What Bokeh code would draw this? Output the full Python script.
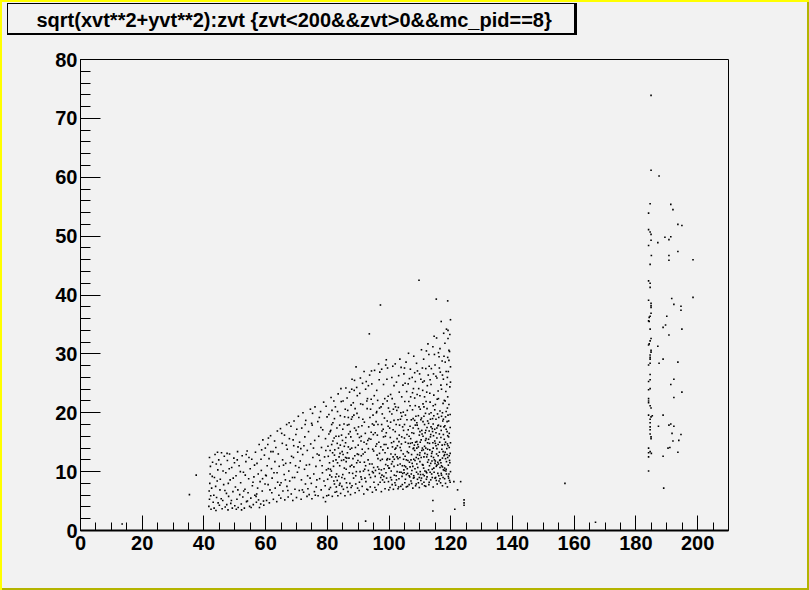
from bokeh.plotting import figure
from bokeh.models import Range1d, SingleIntervalTicker, ColumnDataSource
from bokeh.embed import file_html
from bokeh.resources import INLINE

TITLE = "sqrt(xvt**2+yvt**2):zvt {zvt<200&&zvt>0&&mc_pid==8}"

# (zvt, sqrt(xvt^2+yvt^2)) points, by zvt range
cluster_40_60 = [
    (41.6,4.1),(41.8,5.3),(41.7,6.7),(41.9,8.0),(42.0,9.6),(42.1,10.9),(41.8,12.4),(42.3,3.6),(42.5,7.2),(42.8,11.6),
    (43.0,4.8),(43.2,6.0),(43.4,9.0),(43.6,12.9),(43.9,3.4),(44.1,5.6),(44.3,8.4),(44.5,10.3),(44.8,12.0),(45.0,4.3),
    (45.2,6.9),(45.5,11.2),(45.7,13.2),(45.9,3.7),(46.1,5.1),(46.4,7.8),(46.6,12.6),(46.9,4.0),(47.1,9.8),(47.3,6.3),
    (47.6,11.9),(47.8,3.5),(48.0,5.8),(48.3,13.0),(48.5,8.6),(48.7,4.6),(49.0,10.7),(49.2,3.8),(49.4,6.6),(49.7,12.3),
    (50.0,4.2),(50.2,7.4),(50.4,9.3),(50.7,5.3),(50.9,13.4),(51.1,3.9),(51.4,11.0),(51.6,6.1),(51.9,8.1),(52.1,4.5),
    (52.4,12.7),(52.6,5.7),(52.8,9.9),(53.1,3.8),(53.3,7.0),(53.6,11.7),(53.8,4.9),(54.0,13.5),(54.3,6.4),(54.5,8.8),
    (54.8,4.1),(55.0,10.5),(55.2,5.5),(55.5,12.1),(55.7,7.6),(56.0,4.4),(56.2,9.1),(56.5,6.0),(56.7,13.3),(57.0,4.8),
    (57.2,11.4),(57.4,7.2),(57.7,5.2),(57.9,14.6),(58.2,8.3),(58.4,4.5),(58.6,10.2),(58.9,6.7),(59.1,15.4),(59.3,5.0),
    (59.6,12.8),(59.8,7.9),(60.0,9.4),
    (42.2,5.9),(42.7,9.2),(43.3,3.8),(43.8,7.5),(44.0,11.3),(44.6,4.7),(45.3,8.7),(45.6,5.4),(46.2,10.1),(46.8,6.8),
    (47.4,4.4),(47.9,8.0),(48.2,10.5),(48.9,5.1),(49.5,8.9),(49.9,11.5),(50.5,3.6),(51.0,6.9),(51.8,10.0),(52.2,3.5),
    (52.9,6.7),(53.4,9.4),(54.1,5.0),(54.6,12.4),(55.3,3.9),(55.9,8.2),(56.4,11.1),(57.1,6.2),(57.6,9.6),(58.0,3.9),
    (58.5,12.1),(59.0,8.8),(59.4,4.3),(59.9,14.0),(58.7,13.7),(56.9,5.8),(53.7,12.9),(50.8,12.0),(47.5,13.1),(44.4,13.3),
]

cluster_60_80 = [
    (60.2,9.3),(60.3,5.1),(60.7,14.6),(60.8,7.8),(61.1,12.2),(61.2,4.7),(61.6,16.1),(61.9,10.5),(62.0,6.4),(62.1,8.9),
    (62.4,13.4),(62.5,5.3),(62.9,15.2),(63.0,11.7),(63.1,7.2),(63.6,4.9),(63.7,9.8),(63.8,16.9),(64.1,13.0),(64.3,6.0),
    (64.4,10.9),(64.8,17.3),(64.9,5.5),(65.0,8.1),(65.4,14.8),(65.5,12.0),(65.6,6.7),(66.0,9.5),(66.1,16.2),(66.2,5.2),
    (66.5,11.4),(66.8,18.0),(66.9,7.5),(67.0,13.8),(67.3,5.7),(67.5,10.1),(67.7,15.6),(67.8,8.4),(68.2,17.7),(68.3,6.2),
    (68.4,12.6),(68.7,9.0),(68.8,5.1),(69.1,14.4),(69.2,18.6),(69.5,7.0),(69.7,11.0),(69.8,16.3),(70.0,5.6),(70.3,9.9),
    (70.4,13.3),(70.6,19.4),(70.9,6.8),(71.0,15.0),(71.2,11.8),(71.5,5.3),(71.6,8.6),(71.7,17.4),(72.0,12.9),(72.1,20.0),
    (72.3,6.5),(72.6,10.4),(72.7,15.9),(72.9,7.9),(73.0,18.7),(73.4,5.8),(73.5,13.6),(73.6,9.3),(73.9,16.8),(74.1,6.1),
    (74.2,11.2),(74.5,20.6),(74.6,14.7),(74.8,8.0),(75.0,5.4),(75.1,17.9),(75.3,12.4),(75.6,9.6),(75.8,6.6),(75.9,15.3),
    (76.0,21.0),(76.3,10.9),(76.4,7.4),(76.7,13.0),(76.9,18.5),(77.0,5.9),(77.2,16.0),(77.5,8.8),(77.6,11.9),(77.8,20.2),
    (78.0,6.9),(78.1,14.1),(78.4,9.8),(78.5,17.1),(78.7,5.6),(78.8,21.8),(79.1,12.5),(79.3,7.6),(79.4,15.6),(79.7,10.3),
    (79.9,19.3),(79.8,5.9),
    (60.5,11.0),(61.4,6.9),(62.7,9.8),(63.3,14.1),(64.6,7.7),(65.8,11.1),(66.7,14.5),(67.2,6.8),(68.0,11.5),(68.9,15.4),
    (69.4,9.0),(70.1,17.2),(70.8,10.7),(71.9,6.9),(72.4,14.4),(73.2,11.1),(74.4,8.9),(74.9,18.2),(75.5,14.0),(76.6,8.6),
    (77.3,12.8),(77.9,17.5),(78.9,8.4),(79.5,13.6),(76.1,6.0),(73.7,7.1),(71.4,13.9),(69.0,12.4),(66.4,8.6),(63.9,8.2),
    (61.7,13.4),(60.9,15.7),(65.2,16.5),(67.6,18.3),(70.5,14.2),(72.8,18.0),(75.2,19.9),(77.4,19.2),(79.6,21.1),(78.3,11.0),
]

cluster_80_100 = [
    (80.1,8.7),(80.2,14.3),(80.4,6.0),(80.5,19.7),(80.7,11.5),(80.9,16.8),(81.0,7.3),(81.2,22.6),(81.3,10.1),(81.6,5.8),
    (81.7,13.2),(81.8,18.3),(82.1,8.4),(82.2,15.7),(82.5,6.5),(82.6,21.0),(82.8,12.0),(83.0,9.6),(83.1,17.4),(83.4,5.9),
    (83.5,23.2),(83.6,14.0),(83.9,7.7),(84.0,11.0),(84.2,19.5),(84.3,6.3),(84.6,16.2),(84.7,9.0),(84.8,13.4),(85.1,22.0),
    (85.2,7.0),(85.4,18.1),(85.5,10.6),(85.7,5.9),(85.9,14.9),(86.0,24.2),(86.2,8.1),(86.3,12.3),(86.6,20.4),(86.7,6.6),
    (86.9,16.4),(87.1,9.8),(87.2,23.5),(87.4,13.8),(87.5,6.1),(87.8,18.9),(87.9,11.1),(88.0,7.6),(88.3,15.2),(88.4,21.7),
    (88.5,8.9),(88.8,25.5),(88.9,12.7),(89.0,6.4),(89.3,17.0),(89.4,10.0),(89.7,22.9),(89.8,7.2),(90.0,14.5),(90.2,19.2),
    (90.3,6.8),(90.6,11.6),(90.7,25.9),(90.9,9.1),(91.0,16.0),(91.3,7.5),(91.5,21.4),(91.6,13.0),(91.8,6.2),(92.0,18.4),
    (92.1,10.4),(92.4,24.0),(92.5,8.3),(92.7,14.7),(92.9,20.7),(93.1,6.9),(93.2,12.0),(93.4,17.6),(93.6,9.5),(93.7,26.4),
    (93.9,7.4),(94.1,15.5),(94.2,22.3),(94.5,11.3),(94.6,6.5),(94.8,19.6),(95.0,13.5),(95.1,8.2),(95.3,27.2),(95.5,16.6),
    (95.6,10.2),(95.8,6.9),(96.0,23.8),(96.1,12.8),(96.4,18.0),(96.5,7.8),(96.7,15.0),(96.9,9.7),(97.0,26.9),(97.2,11.9),
    (97.4,21.0),(97.5,6.6),(97.7,16.9),(97.9,8.6),(98.0,13.7),(98.2,24.8),(98.4,10.5),(98.5,19.1),(98.7,7.1),(98.9,28.1),
    (99.0,14.6),(99.2,8.9),(99.4,22.0),(99.5,12.2),(99.7,17.7),(99.9,6.9),
    (80.3,12.6),(80.8,9.4),(81.1,17.0),(81.5,20.4),(82.0,10.9),(82.4,13.7),(82.9,7.4),(83.3,20.2),(83.8,12.5),(84.1,8.0),
    (84.5,21.9),(84.9,15.3),(85.3,12.0),(85.8,20.6),(86.1,10.4),(86.5,17.9),(86.8,14.2),(87.3,8.0),(87.6,15.9),(88.1,19.3),
    (88.6,10.8),(89.1,14.1),(89.5,24.3),(89.9,11.9),(90.4,8.2),(90.8,21.5),(91.2,17.8),(91.7,10.1),(92.2,13.3),(92.8,7.0),
    (93.0,22.4),(93.5,15.6),(94.0,9.0),(94.4,24.9),(94.9,16.3),(95.4,7.3),(95.9,20.0),(96.3,10.8),(96.8,25.6),(97.3,14.2),
    (97.8,19.8),(98.3,9.2),(98.8,16.0),(99.3,25.7),(99.6,11.0),(99.8,20.8),(98.6,22.4),(97.1,8.2),(96.2,16.2),(95.2,22.9),
    (93.3,10.2),(91.4,25.0),(89.6,19.9),(87.7,21.3),(85.6,8.8),(83.7,16.0),(81.4,14.6),(90.1,12.9),(94.7,13.8),(98.1,17.2),
    (84.4,24.1),(86.4,22.5),(88.7,23.8),(91.9,27.0),(94.3,27.1),(96.6,28.3),(99.1,29.0),(92.6,25.3),(97.6,27.4),(99.5,27.6),
    (80.6,7.0),(81.9,11.8),(82.3,19.0),(82.7,9.1),(83.2,14.8),(84.6,11.9),(85.0,17.2),(85.5,14.3),(86.4,7.3),(87.0,12.3),
    (87.9,24.0),(88.2,9.7),(89.2,7.9),(89.8,16.4),(90.5,23.3),(91.1,8.7),(92.3,16.5),(93.8,19.2),(94.6,18.1),(95.7,14.3),
    (96.9,13.1),(97.5,10.3),(98.4,14.6),(99.0,9.8),(99.4,18.6),(99.8,8.3),(95.0,10.7),(92.0,11.6),(89.0,20.7),(86.0,15.8),
    (83.0,6.6),(81.0,10.4),(82.1,22.0),(84.0,17.9),(87.4,16.8),(90.9,15.2),(93.3,24.6),(96.0,20.2),(98.9,11.2),(97.7,9.4),
    (93.6,33.4),(97.2,38.3),(89.3,27.8),(88.0,25.7),
    (80.3,10.5),(80.9,13.6),(81.4,9.1),(81.8,15.2),(82.3,7.9),(82.8,16.0),(83.3,11.5),(83.7,9.2),(84.2,14.5),(84.7,7.5),
    (85.1,12.9),(85.6,19.3),(86.1,11.7),(86.5,13.2),(87.0,18.0),(87.4,10.9),(87.9,14.0),(88.3,12.2),(88.8,17.4),(89.2,9.3),
    (89.7,13.0),(90.1,17.6),(90.6,10.0),(91.0,12.7),(91.5,18.9),(91.9,15.0),(92.4,11.0),(92.8,22.0),(93.3,13.9),(93.7,11.3),
    (94.2,16.7),(94.6,10.0),(95.1,17.9),(95.5,9.2),(96.0,14.7),(96.4,12.2),(96.9,20.8),(97.3,9.0),(97.8,12.1),(98.2,15.9),
    (98.7,13.2),(99.1,16.6),(99.6,14.0),(99.9,10.6),(99.3,12.0),(98.5,8.2),(97.6,18.0),(96.7,10.4),(95.8,18.5),(94.9,9.8),
    (94.0,20.6),(93.1,15.3),(92.2,8.9),(91.3,13.8),(90.4,15.8),(89.5,11.5),(88.6,19.6),(87.7,7.3),(86.8,19.2),(85.9,12.4),
    (85.0,9.5),(84.1,13.1),(83.2,8.5),(82.3,12.8),(81.4,18.0),(80.5,16.4),(99.7,22.8),(98.0,21.5),(96.3,22.1),(94.7,21.5),
]

cluster_100_120 = [
    (100.1,10.6),(100.2,17.4),(100.3,7.3),(100.5,23.1),(100.6,13.0),(100.8,8.6),(100.9,19.8),(101.1,11.7),(101.2,27.9),(101.4,7.0),
    (101.5,15.1),(101.7,9.4),(101.8,21.5),(102.0,12.9),(102.1,7.7),(102.3,18.0),(102.4,25.2),(102.6,10.0),(102.7,14.4),(102.9,7.1),
    (103.0,20.9),(103.2,8.8),(103.3,16.2),(103.5,29.1),(103.6,11.3),(103.8,7.5),(103.9,13.6),(104.1,22.7),(104.2,9.2),(104.4,17.6),
    (104.5,7.0),(104.7,12.1),(104.8,26.6),(105.0,15.7),(105.1,8.1),(105.3,19.6),(105.4,10.8),(105.6,7.4),(105.7,23.6),(105.9,13.4),
    (106.0,9.7),(106.2,17.1),(106.3,30.1),(106.5,7.8),(106.6,11.6),(106.8,21.2),(106.9,14.8),(107.1,8.4),(107.2,18.8),(107.4,10.2),
    (107.5,26.0),(107.7,7.2),(107.8,13.9),(108.0,16.5),(108.1,9.0),(108.3,22.5),(108.4,11.9),(108.6,7.6),(108.7,19.4),(108.9,28.4),
    (109.0,14.0),(109.2,8.7),(109.3,10.7),(109.5,17.3),(109.6,24.1),(109.8,7.3),(109.9,12.8),(110.1,20.6),(110.2,9.5),(110.4,15.4),
    (110.5,30.7),(110.7,7.9),(110.8,11.2),(111.0,18.5),(111.1,13.7),(111.3,8.2),(111.4,25.4),(111.6,10.1),(111.7,16.6),(111.9,7.5),
    (112.0,21.9),(112.2,12.5),(112.3,9.1),(112.5,14.9),(112.6,31.7),(112.8,18.2),(112.9,7.8),(113.1,11.0),(113.2,23.3),(113.4,15.9),
    (113.5,8.6),(113.7,27.5),(113.8,13.1),(114.0,10.4),(114.1,19.0),(114.3,7.4),(114.4,16.1),(114.6,33.0),(114.7,12.0),(114.9,8.9),
    (115.0,21.4),(115.2,14.4),(115.3,10.9),(115.5,25.9),(115.6,7.9),(115.8,17.8),(115.9,12.7),(116.1,9.3),(116.2,29.5),(116.4,15.0),
    (116.5,20.3),(116.7,8.1),(116.8,11.5),(117.0,24.0),(117.1,13.8),(117.3,7.6),(117.4,18.6),(117.6,10.3),(117.7,33.5),(117.9,15.5),
    (118.0,8.8),(118.2,22.0),(118.3,12.2),(118.5,27.0),(118.6,9.6),(118.8,16.8),(118.9,7.4),(119.1,19.6),(119.2,11.1),(119.4,30.6),
    (119.5,14.1),(119.6,8.5),(119.7,24.4),(119.8,17.5),(119.9,10.0),
    (100.4,15.8),(100.7,10.1),(101.0,22.4),(101.3,12.5),(101.6,18.7),(101.9,8.1),(102.2,14.0),(102.5,20.4),(102.8,11.1),(103.1,26.3),
    (103.4,9.9),(103.7,18.9),(104.0,14.7),(104.3,11.0),(104.6,20.1),(104.9,9.8),(105.2,12.6),(105.5,28.6),(105.8,16.3),(106.1,11.9),
    (106.4,21.9),(106.7,9.1),(107.0,15.6),(107.3,12.9),(107.6,20.5),(107.9,8.9),(108.2,14.5),(108.5,25.3),(108.8,12.4),(109.1,17.9),
    (109.4,9.6),(109.7,21.0),(110.0,13.2),(110.3,8.5),(110.6,17.0),(110.9,23.8),(111.2,10.6),(111.5,14.3),(111.8,19.9),(112.1,8.7),
    (112.4,12.9),(112.7,26.4),(113.0,16.9),(113.3,9.9),(113.6,20.0),(113.9,11.8),(114.2,14.9),(114.5,23.0),(114.8,17.2),(115.1,9.0),
    (115.4,13.0),(115.7,19.8),(116.0,11.3),(116.3,16.4),(116.6,26.9),(116.9,9.7),(117.2,14.5),(117.5,21.6),(117.8,12.7),(118.1,17.8),
    (118.4,10.1),(118.7,13.9),(119.0,22.7),(119.3,15.9),(119.6,11.9),(119.9,27.8),(119.8,8.2),(119.3,18.6),(118.9,20.8),(118.3,15.0),
    (105.0,18.0),(105.9,10.5),(106.6,14.2),(107.2,9.6),(107.8,17.4),(108.4,10.5),(109.0,15.1),(109.5,12.2),(110.1,10.0),(110.6,13.6),
    (111.0,16.0),(111.4,9.3),(111.9,14.0),(112.3,17.5),(112.8,10.3),(113.2,13.7),(113.6,17.6),(114.0,9.0),(114.4,12.4),(114.8,15.2),
    (115.2,18.9),(115.5,11.1),(115.9,14.6),(116.2,8.4),(116.6,12.0),(116.9,17.0),(117.3,10.8),(117.6,16.3),(118.0,12.9),(118.3,19.3),
    (118.6,11.7),(118.9,14.7),(119.2,9.2),(119.5,16.5),(119.8,13.1),(119.4,21.4),(119.0,12.4),(118.5,17.2),(118.0,10.6),(117.5,13.4),
    (117.0,19.4),(116.5,10.7),(116.0,17.9),(115.5,15.7),(115.0,11.8),(114.5,19.5),(114.1,16.8),(113.5,11.4),(113.0,19.8),(112.5,11.6),
    (112.0,15.6),(111.5,18.0),(111.0,11.1),(110.5,19.1),(110.0,16.8),(109.5,19.5),(109.0,11.3),(108.5,17.9),(108.0,12.1),(107.5,14.9),
    (100.9,26.0),(102.0,28.3),(103.9,27.7),(105.2,25.0),(106.9,27.4),(108.0,29.6),(109.2,27.1),(110.3,25.7),(111.2,29.1),(111.9,27.5),
    (112.9,29.9),(113.6,24.8),(114.2,31.2),(114.9,28.1),(115.4,32.7),(115.9,23.7),(116.5,30.9),(117.2,28.8),(117.6,25.7),(118.1,31.8),
    (118.6,34.2),(118.9,26.0),(119.1,32.6),(119.4,28.9),(119.7,33.3),(119.9,25.2),(118.4,23.6),(117.9,22.1),(116.8,24.7),(115.6,22.3),
    (114.3,21.2),(113.3,25.6),(112.2,23.5),(111.3,21.0),(110.8,27.6),(110.0,22.9),(109.1,23.1),(107.6,23.4),(106.2,24.9),(104.5,24.7),
    (109.7,42.5),(115.3,39.3),(119.0,39.0),(116.9,35.5),(119.9,35.8),(119.1,34.0),
]

dense_100_120 = [
    (100.2,12.1),(100.5,9.0),(100.8,14.9),(101.0,7.8),(101.3,17.1),(101.6,10.9),(101.9,13.8),(102.1,21.0),(102.4,8.6),(102.6,15.6),
    (102.9,12.2),(103.1,7.4),(103.4,17.9),(103.6,14.1),(103.9,9.9),(104.1,19.4),(104.3,7.8),(104.6,13.0),(104.8,10.3),(105.1,21.9),
    (105.3,8.7),(105.6,12.0),(105.8,18.8),(106.0,7.5),(106.3,13.2),(106.5,16.0),(106.8,10.8),(107.0,22.7),(107.3,8.0),(107.5,11.4),
    (107.8,19.0),(108.0,9.3),(108.3,13.6),(108.5,21.2),(108.8,7.9),(109.0,18.3),(109.3,14.6),(109.5,8.1),(109.8,16.2),(110.0,11.7),
    (110.3,18.8),(110.5,8.9),(110.8,14.0),(111.0,21.5),(111.3,12.5),(111.5,7.6),(111.8,15.3),(112.0,10.0),(112.3,20.7),(112.5,13.8),
    (112.8,15.5),(113.0,8.2),(113.3,21.8),(113.5,16.3),(113.8,9.6),(114.0,13.4),(114.3,18.1),(114.5,10.6),(114.8,20.5),(115.0,14.8),
    (115.3,8.5),(115.5,17.4),(115.8,11.6),(116.0,22.4),(116.3,13.3),(116.5,8.8),(116.8,15.8),(117.0,11.0),(117.3,20.0),(117.5,9.0),
    (117.8,17.6),(118.0,14.6),(118.3,8.0),(118.5,20.2),(118.8,12.9),(119.0,16.1),(119.3,8.9),(119.5,12.7),(119.8,19.7),(119.9,14.9),
    (119.7,11.5),(119.4,9.6),(119.1,14.4),(118.8,18.5),(118.5,10.4),(118.2,13.3),(117.9,10.2),(117.6,18.9),(117.3,12.3),(117.0,9.4),
    (116.7,17.7),(116.4,11.9),(116.1,19.2),(115.8,9.7),(115.5,13.9),(115.2,16.6),(114.9,11.4),(114.6,9.9),(114.3,14.0),(114.0,17.3),
    (113.7,12.6),(113.4,18.9),(113.1,14.8),(112.8,12.0),(112.5,18.6),(112.2,9.8),(111.9,17.0),(111.6,13.1),(111.3,19.4),(111.0,9.5),
    (110.7,16.4),(110.4,12.4),(110.1,15.0),(109.8,9.0),(109.5,14.2),(109.2,12.9),(108.9,9.9),(108.6,15.0),(108.3,18.7),(108.0,14.0),
    (107.7,10.9),(107.4,16.6),(107.1,12.0),(106.8,17.7),(106.5,9.3),(106.2,14.8),(105.9,20.4),(105.6,9.5),(105.3,15.0),(105.0,11.0),
    (104.7,17.0),(104.4,9.7),(104.1,15.9),(103.8,20.0),(103.5,12.4),(103.2,15.1),(102.9,18.8),(102.6,12.5),(102.3,9.3),(102.0,16.8),
    (101.7,12.1),(101.4,20.6),(101.1,14.2),(100.8,11.3),(100.5,18.4),(100.2,20.2),(110.9,25.2),(112.4,24.6),(114.4,26.6),(116.3,27.6),
    (117.3,26.4),(118.2,28.6),(119.2,27.0),(119.6,30.4),(118.7,24.8),(115.2,26.2),(113.0,27.9),(111.5,22.7),(109.9,26.6),(108.3,26.8),
    (106.6,25.8),(105.0,27.6),(103.3,23.5),(101.6,24.6),(107.9,24.1),(116.0,30.2),(117.8,29.6),(119.0,29.4),(114.7,29.9),(112.1,30.5),
]

outliers = [
    (37.5,9.4),(35.3,6.1),(13.5,1.1),(92.4,1.6),(79.4,4.9),
    (114.2,3.3),(114.2,5.1),(121.3,3.6),(124.3,5.2),(124.3,4.7),(124.3,4.3),(123.2,8.3),(121.0,8.3),
    (122.2,6.9),(157.0,8.0),(166.9,1.4),
]

band_185 = [
    (184.9,73.9),(184.9,61.2),(187.5,60.2),(184.6,55.5),(191.3,55.4),(192.0,54.5),(184.1,53.9),(193.6,52.0),
    (194.9,51.8),(184.1,51.1),(184.6,50.7),(184.9,50.3),(189.4,49.8),(191.3,49.9),(190.7,49.4),(184.9,49.3),
    (187.1,48.9),(184.1,48.4),(193.6,47.4),(185.0,46.7),(190.7,46.7),(190.7,45.9),(198.5,46.0),(184.6,45.2),
    (184.1,42.4),(184.6,42.0),(184.6,41.3),(184.1,39.1),(191.6,39.4),(198.5,39.6),(184.9,38.6),(184.9,38.2),
    (184.9,37.9),(192.3,38.4),(194.6,38.1),(194.6,37.4),(184.9,36.9),(184.6,36.4),(184.3,36.2),(184.3,35.5),
    (184.1,35.6),(190.0,36.4),(189.6,34.9),(188.8,34.5),(184.6,34.2),(194.9,34.2),(190.7,33.2),(184.9,32.6),
    (184.6,32.2),(184.3,31.7),(184.1,31.5),(187.1,31.3),(184.9,30.6),(184.9,30.3),(184.6,29.8),(184.6,29.4),
    (184.6,29.1),(184.6,28.4),(184.1,28.1),(188.8,29.1),(187.5,28.4),(193.6,28.6),(184.6,26.5),(184.6,25.6),
    (184.1,25.3),(192.3,25.7),(191.3,24.8),(184.6,24.1),(184.1,23.9),(194.9,23.5),(192.3,22.6),(184.1,22.4),
    (184.1,22.0),(184.1,21.7),(184.6,21.2),(184.9,20.8),(184.1,19.6),(184.9,19.3),(184.6,18.9),(185.3,19.5),
    (188.8,19.6),(184.6,18.3),(184.6,17.6),(184.6,17.1),(184.6,16.4),(184.9,15.9),(184.9,15.6),(187.3,17.7),
    (190.7,17.9),(191.3,18.1),(192.3,17.7),(191.7,16.5),(194.6,16.3),(192.0,15.2),(193.9,15.3),(184.1,14.0),
    (184.6,13.4),(184.1,13.2),(185.0,13.1),(184.1,12.5),(190.4,14.0),(193.6,13.3),(188.8,12.6),(184.1,10.1),
    (189.0,7.2),(191.0,14.1),
]

GRAY = "#f2f2f2"
FONT = "Liberation Sans"

all_pts = (cluster_40_60 + cluster_60_80 + cluster_80_100 + cluster_100_120 +
           dense_100_120 + outliers + band_185)
src = ColumnDataSource(dict(zvt=[q[0] for q in all_pts], r=[q[1] for q in all_pts]))

p = figure(width=809, height=590, output_backend="svg", toolbar_location=None,
           x_range=Range1d(0, 210), y_range=Range1d(0, 80),
           min_border_left=80, min_border_right=81, min_border_top=59, min_border_bottom=60)
p.background_fill_color = GRAY
p.border_fill_color = GRAY
p.border_fill_alpha = 0.0
# canvas bevel plus the title box (black frame with drop shadow, grey inside)
p.styles = {
    "background-color": GRAY,
    "background-image": "linear-gradient(#f2f2f2,#f2f2f2), linear-gradient(#000,#000)",
    "background-position": "8px 4px, 7px 3px",
    "background-size": "566px 29px, 570px 32px",
    "background-repeat": "no-repeat",
    "box-shadow": "inset 2px 2px 0 #ffff00, inset -2px -2px 0 #b4b400",
}
p.outline_line_color = "black"
p.outline_line_width = 1
p.grid.visible = False

p.scatter("zvt", "r", source=src, marker="square", size=1.6,
          fill_color="black", line_color=None)

xa = p.xaxis[0]
xa.ticker = SingleIntervalTicker(interval=20, num_minor_ticks=4)
xa.major_tick_in = 15
xa.major_tick_out = 0
xa.minor_tick_in = 8
xa.minor_tick_out = 0
xa.axis_line_width = 2
xa.major_label_standoff = 5

ya = p.yaxis[0]
ya.ticker = SingleIntervalTicker(interval=10, num_minor_ticks=5)
ya.major_tick_in = 20
ya.major_tick_out = 0
ya.minor_tick_in = 10
ya.minor_tick_out = 0
ya.major_label_standoff = 3

for ax in (xa, ya):
    ax.major_label_text_font = FONT
    ax.major_label_text_font_style = "bold"
    ax.major_label_text_font_size = "20px"
    ax.major_label_text_color = "black"
    ax.axis_line_color = "black"
    ax.major_tick_line_color = "black"
    ax.minor_tick_line_color = "black"

# the title sits right above the frame; a blank second line lifts it into the box
p.title.text = TITLE + "\n\u00a0"
p.title.align = "left"
p.title.offset = -44
p.title.vertical_align = "bottom"
p.title.standoff = 0
p.title.text_line_height = 1.3
p.title.text_font = FONT
p.title.text_font_style = "bold"
p.title.text_font_size = "20px"
p.title.text_color = "black"

open("out.html", "w").write(file_html(p, INLINE))
